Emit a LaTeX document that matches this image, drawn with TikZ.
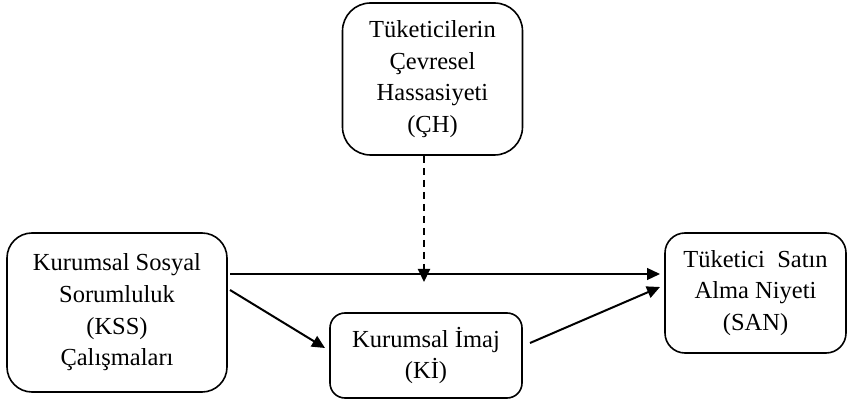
\documentclass[tikz,border=0pt]{standalone}
\usepackage{fontspec}
\setmainfont{Liberation Serif}
\usetikzlibrary{arrows.meta}
\begin{document}
\begin{tikzpicture}[x=1pt,y=-1pt,
  box/.style={draw, line width=1.6pt, align=center, inner sep=0pt,
    font=\fontsize{24.5}{31.7}\selectfont},
  arr/.style={line width=1.3pt, -{Triangle[length=13pt,width=12pt]}},
  diag/.style={arr, line width=2pt}]
\useasboundingbox (0,0) rectangle (849,403);
\node[box, rounded corners=28pt, minimum width=180pt, minimum height=152pt] (CH) at (432.5,79)
  {Tüketicilerin\\Çevresel\\Hassasiyeti\\(ÇH)};
\node[box, rounded corners=25pt, minimum width=220pt, minimum height=159pt] (KSS) at (117,312.5)
  {Kurumsal Sosyal\\Sorumluluk\\(KSS)\\Çalışmaları};
\node[box, rounded corners=15pt, minimum width=192pt, minimum height=85pt] (KI) at (426,355.5)
  {Kurumsal İmaj\\(Kİ)};
\node[box, rounded corners=20pt, minimum width=181pt, minimum height=120pt] (SAN) at (755.5,293)
  {Tüketici~ Satın\\Alma Niyeti\\(SAN)};
\coordinate (h1) at (230,274);
\coordinate (h2) at (660,274);
\coordinate (mid) at (424,274);
\coordinate (a1) at (230,290);
\coordinate (a2) at (325,348);
\coordinate (b1) at (530,343);
\coordinate (b2) at (660,287);
\draw[arr] (h1) -- (h2);
\draw[diag, dash pattern=on 7pt off 5pt] (CH.south -| mid) -- ([yshift=-8pt]mid);
\draw[diag] (a1) -- (a2);
\draw[diag] (b1) -- (b2);
\end{tikzpicture}
\end{document}
